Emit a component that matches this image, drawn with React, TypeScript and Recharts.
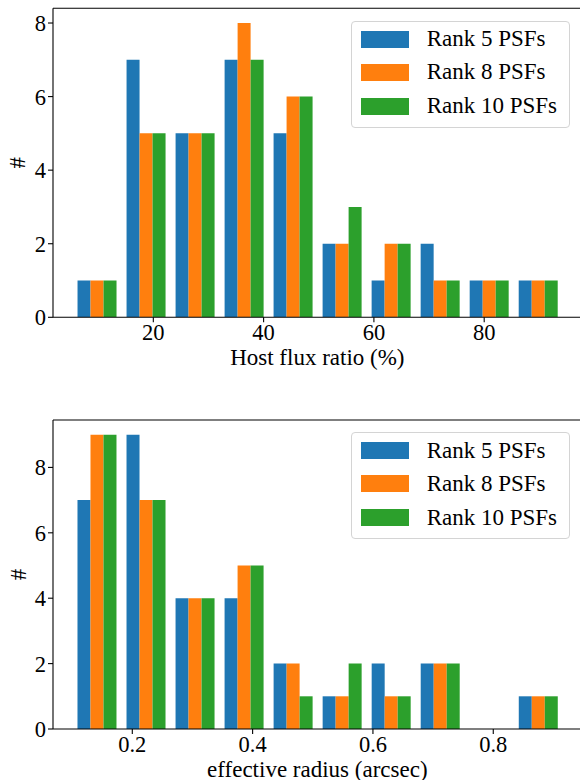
import React from 'react';
import { BarChart, Bar, XAxis, YAxis, ReferenceLine, Legend, Label } from 'recharts';

// ---- data ----
// bin centres of the histograms
const fluxBins = [9.81, 18.7, 27.59, 36.48, 45.36, 54.25, 63.14, 72.03, 80.92, 89.81];
const fluxRank5 = [1, 7, 5, 7, 5, 2, 1, 2, 1, 1];
const fluxRank8 = [1, 5, 5, 8, 6, 2, 2, 1, 1, 1];
const fluxRank10 = [1, 5, 5, 7, 6, 3, 2, 1, 1, 1];
const fluxTicks = [20, 40, 60, 80];
const fluxDomain = [1.81, 97.68];
const fluxYTicks = [0, 2, 4, 6, 8];
const fluxYMax = 8.4;

const radiusBins = [0.1415, 0.223, 0.3045, 0.386, 0.4675, 0.549, 0.6305, 0.712, 0.7935, 0.875];
const radiusRank5 = [7, 9, 4, 4, 2, 1, 2, 2, 0, 1];
const radiusRank8 = [9, 7, 4, 5, 2, 1, 1, 2, 0, 1];
const radiusRank10 = [9, 7, 4, 5, 1, 2, 1, 2, 0, 1];
const radiusTicks = [0.2, 0.4, 0.6, 0.8];
const radiusDomain = [0.0682, 0.947];
const radiusYTicks = [0, 2, 4, 6, 8];
const radiusYMax = 9.45;

const seriesNames = ['Rank 5 PSFs', 'Rank 8 PSFs', 'Rank 10 PSFs'];
const seriesColors = ['#1f77b4', '#ff7f0e', '#2ca02c'];
const seriesKeys = ['r5', 'r8', 'r10'];

const fluxData = fluxBins.map((b, i) => ({ x: b, r5: fluxRank5[i], r8: fluxRank8[i], r10: fluxRank10[i] }));
const radiusData = radiusBins.map((b, i) => ({ x: b, r5: radiusRank5[i], r8: radiusRank8[i], r10: radiusRank10[i] }));

const FONT = '"Liberation Serif", "Times New Roman", serif';
const tickStyle = { fill: '#000', fontSize: 22.5, fontFamily: FONT };

const LegendBox = () => {
  const rows = [17.6, 50.8, 84.6];
  return (
    <div
      style={{
        position: 'relative',
        width: 219,
        height: 107,
        boxSizing: 'border-box',
        border: '1px solid #d4d4d4',
        borderRadius: 4,
        background: 'rgba(255,255,255,0.8)',
      }}
    >
      {seriesNames.map((n, i) => (
        <React.Fragment key={n}>
          <div
            style={{
              position: 'absolute',
              left: 9,
              top: rows[i] - 8.4,
              width: 48,
              height: 16.8,
              background: seriesColors[i],
            }}
          />
          <div
            style={{
              position: 'absolute',
              left: 75,
              top: rows[i] - 12,
              height: 24,
              lineHeight: '24px',
              fontSize: 23,
              fontFamily: FONT,
              color: '#000',
              whiteSpace: 'nowrap',
            }}
          >
            {n}
          </div>
        </React.Fragment>
      ))}
    </div>
  );
};

const YLab = (props: any) => {
  const vb = props.viewBox || {};
  const cy = vb.y + vb.height / 2;
  return (
    <text
      x={18}
      y={cy}
      transform={`rotate(-90 18 ${cy})`}
      textAnchor="middle"
      dominantBaseline="central"
      fontSize={23}
      fontFamily={FONT}
      fill="#000"
    >
      #
    </text>
  );
};

type PanelProps = {
  data: any[];
  xTicks: number[];
  xDomain: number[];
  yTicks: number[];
  yMax: number;
  xLabel: string;
  marginTop: number;
  marginBottom: number;
  xAxisHeight: number;
  labelOffset: number;
  legendTop: number;
};

const Panel = (p: PanelProps) => (
  <BarChart
    width={590}
    height={390}
    data={p.data}
    margin={{ top: p.marginTop, right: 8.3, bottom: p.marginBottom, left: 0 }}
    barCategoryGap="10%"
    barGap={0}
  >
    <XAxis
      dataKey="x"
      type="number"
      domain={p.xDomain}
      allowDataOverflow
      ticks={p.xTicks}
      tick={tickStyle}
      tickSize={5}
      tickMargin={2}
      height={p.xAxisHeight}
      axisLine={{ stroke: '#000', strokeWidth: 1.1 }}
      tickLine={{ stroke: '#000', strokeWidth: 1.1 }}
      interval={0}
    >
      <Label
        value={p.xLabel}
        position="insideBottom"
        offset={p.labelOffset}
        style={{ fontSize: 23, fontFamily: FONT, fill: '#000' }}
      />
    </XAxis>
    <YAxis
      type="number"
      width={53}
      domain={[0, p.yMax]}
      allowDataOverflow
      ticks={p.yTicks}
      tick={tickStyle}
      tickSize={5}
      tickMargin={2}
      axisLine={{ stroke: '#000', strokeWidth: 1.1 }}
      tickLine={{ stroke: '#000', strokeWidth: 1.1 }}
      interval={0}
    >
      <Label content={<YLab />} />
    </YAxis>
    <ReferenceLine y={p.yMax} stroke="#000" strokeWidth={1.1} ifOverflow="visible" />
    {seriesKeys.map((k, i) => (
      <Bar key={k} dataKey={k} name={seriesNames[i]} fill={seriesColors[i]} isAnimationActive={false} />
    ))}
    <Legend
      layout="horizontal"
      verticalAlign="middle"
      align="center"
      content={() => <LegendBox />}
      wrapperStyle={{ left: 350.7, top: p.legendTop, width: 219, height: 107, bottom: 'auto', right: 'auto' }}
    />
  </BarChart>
);

export default function App() {
  return (
    <div
      style={{
        position: 'absolute',
        left: 0,
        top: 0,
        width: 580,
        height: 780,
        overflow: 'hidden',
        background: '#fff',
      }}
    >
      <div style={{ position: 'absolute', left: 0, top: 0 }}>
        <Panel
          data={fluxData}
          xTicks={fluxTicks}
          xDomain={fluxDomain}
          yTicks={fluxYTicks}
          yMax={fluxYMax}
          xLabel="Host flux ratio (%)"
          marginTop={8.3}
          marginBottom={12.7}
          xAxisHeight={60}
          labelOffset={12.3}
          legendTop={20.7}
        />
      </div>
      <div style={{ position: 'absolute', left: 0, top: 390 }}>
        <Panel
          data={radiusData}
          xTicks={radiusTicks}
          xDomain={radiusDomain}
          yTicks={radiusYTicks}
          yMax={radiusYMax}
          xLabel="effective radius (arcsec)"
          marginTop={30}
          marginBottom={1}
          xAxisHeight={50}
          labelOffset={2.5}
          legendTop={42}
        />
      </div>
    </div>
  );
}
